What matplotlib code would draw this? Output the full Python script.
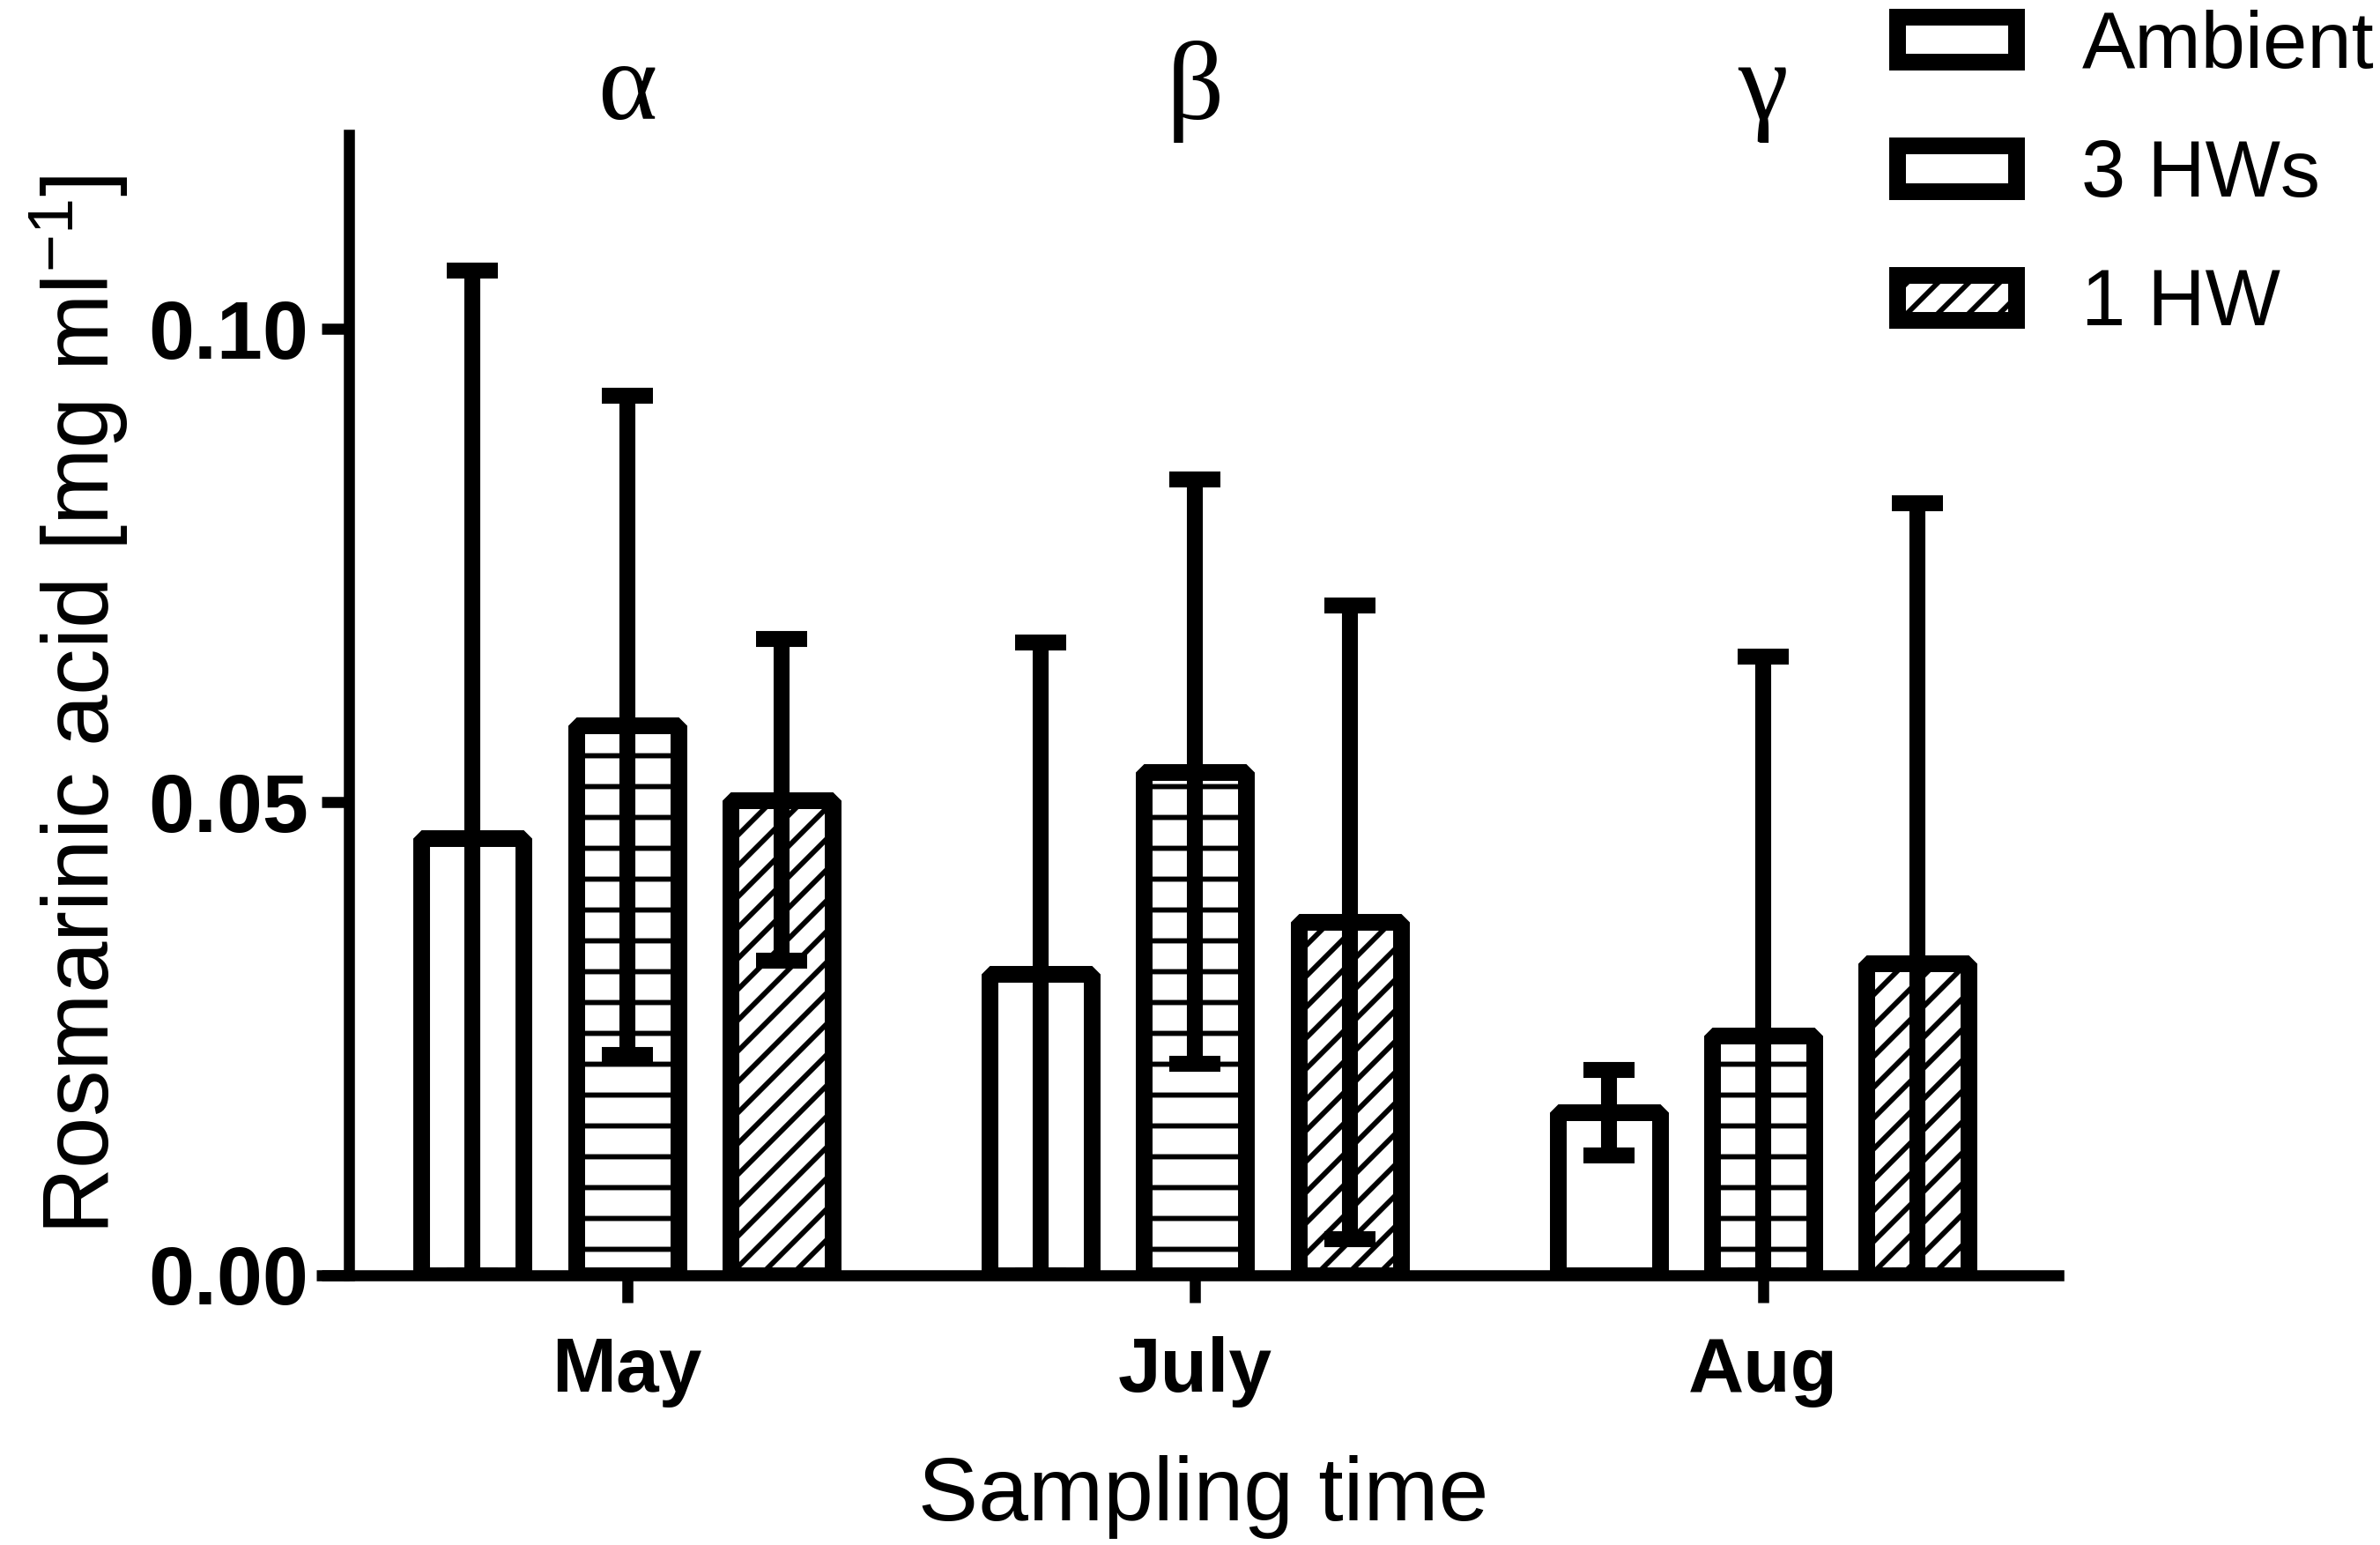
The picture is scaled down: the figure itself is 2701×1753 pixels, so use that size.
import matplotlib
matplotlib.use("Agg")
import matplotlib.pyplot as plt
import numpy as np
from matplotlib.patches import Patch
from matplotlib.lines import Line2D

plt.rcParams["font.family"] = ["Liberation Sans", "DejaVu Sans"]
plt.rcParams["hatch.linewidth"] = 2.0

# valores (média ± DP)
meses = ["May", "July", "Aug"]
grupos = ["Ambient", "3 HWs", "1 HW"]
letras = ["α", "β", "γ"]

media_ambient = [0.0462, 0.0318, 0.0172]
media_3hw = [0.0581, 0.0532, 0.0253]
media_1hw = [0.0502, 0.0373, 0.0330]

dp_ambient = [0.0600, 0.0351, 0.0045]
dp_3hw = [0.0348, 0.0309, 0.0401]
dp_1hw = [0.0170, 0.0335, 0.0486]

medias = [media_ambient, media_3hw, media_1hw]
dps = [dp_ambient, dp_3hw, dp_1hw]
hachuras = [None, "-", "//"]

fig = plt.figure(figsize=(2701 / 210, 1753 / 210), dpi=210)
ax = fig.add_axes([0.1466, 0.1746, 0.8649 - 0.1466, 0.9127 - 0.1746])

x = np.arange(len(meses))
desloc = 0.272
largura = 0.18

for i, (m, d, h) in enumerate(zip(medias, dps, hachuras)):
    m = np.array(m)
    d = np.array(d)
    pos = x + (i - 1) * desloc
    barras = ax.bar(pos, m, width=largura, facecolor="white", edgecolor="black",
                    linewidth=6.5, hatch=h, zorder=2)
    for b in barras:
        b.set_joinstyle("bevel")
    # barra inferior cortada no eixo (estilo GraphPad)
    inferior = np.minimum(d, m)
    ax.errorbar(pos, m, yerr=[inferior, d], fmt="none", ecolor="black",
                elinewidth=6.2, capsize=10, capthick=6.2, zorder=3)

for xi, letra in zip(x, letras):
    ax.text(xi, 0.1222, letra, ha="center", va="baseline", fontsize=44,
            family=["Liberation Serif", "DejaVu Serif"], clip_on=False)

ax.set_xlim(-0.490, 2.52)
ax.set_ylim(0, 0.1205)
ax.set_yticks([0.0, 0.05, 0.10])
ax.set_yticklabels(["0.00", "0.05", "0.10"], fontsize=32, fontweight="bold")
ax.set_xticks(x)
ax.set_xticklabels(meses, fontsize=30, fontweight="bold")

for lado in ["top", "right"]:
    ax.spines[lado].set_visible(False)
for lado in ["left", "bottom"]:
    ax.spines[lado].set_linewidth(4.3)
ax.tick_params(axis="both", length=10.6, width=4.3)
ax.tick_params(axis="y", pad=5)
ax.tick_params(axis="x", pad=13)

# eixo x se estende à esquerda do eixo y
ax.add_line(Line2D([-0.019, 0], [0, 0], transform=ax.transAxes, color="black",
                   linewidth=4.3, clip_on=False, solid_capstyle="butt"))

ax.set_ylabel("Rosmarinic acid [mg ml$^{\\mathregular{-1}}$]", fontsize=36)
ax.yaxis.set_label_coords(-0.128, 0.5)
ax.set_xlabel("Sampling time", fontsize=35)
ax.xaxis.set_label_coords(0.5, -0.158)

handles = [Patch(facecolor="white", edgecolor="black", linewidth=6.5, hatch=None, joinstyle="bevel"),
           Patch(facecolor="white", edgecolor="black", linewidth=6.5, hatch=None, joinstyle="bevel"),
           Patch(facecolor="white", edgecolor="black", linewidth=6.5, hatch="//", joinstyle="bevel")]
fig.legend(handles, grupos, loc="upper left", bbox_to_anchor=(0.797, 0.994),
           frameon=False, fontsize=31, borderpad=0, borderaxespad=0,
           handlelength=1.5, handleheight=0.5, handletextpad=0.82,
           labelspacing=0.68)

fig.savefig("out.png", dpi=210, facecolor="white")
plt.close(fig)
